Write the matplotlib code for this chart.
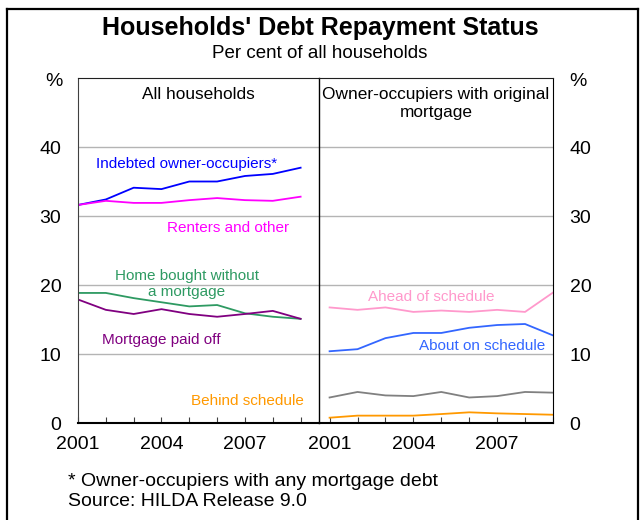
import matplotlib
matplotlib.use('Agg')
import matplotlib.pyplot as plt
from matplotlib.lines import Line2D

plt.rcParams['font.family'] = ['Liberation Sans', 'DejaVu Sans']

years = [2001, 2002, 2003, 2004, 2005, 2006, 2007, 2008, 2009]

# left panel: all households
indebted = [31.6, 32.4, 34.1, 33.9, 35.0, 35.0, 35.8, 36.1, 37.0]
renters = [31.6, 32.2, 31.9, 31.9, 32.3, 32.6, 32.3, 32.2, 32.8]
home_no_mortgage = [18.85, 18.85, 18.1, 17.5, 16.9, 17.1, 15.9, 15.4, 15.1]
paid_off = [17.9, 16.4, 15.8, 16.5, 15.8, 15.4, 15.8, 16.25, 15.1]

# right panel: owner-occupiers with original mortgage
ahead = [16.75, 16.4, 16.75, 16.1, 16.3, 16.1, 16.4, 16.1, 18.9]
on_schedule = [10.4, 10.7, 12.3, 13.05, 13.05, 13.8, 14.2, 14.35, 12.7]
other = [3.7, 4.5, 4.0, 3.9, 4.5, 3.7, 3.9, 4.5, 4.4]
behind = [0.77, 1.07, 1.07, 1.07, 1.3, 1.55, 1.4, 1.3, 1.2]

year_labels = ['2001', '', '', '2004', '', '', '2007', '', '']

fig = plt.figure(figsize=(6.4, 5.2), dpi=100)
ax1 = fig.add_axes([0.1219, 0.1865, 0.3765, 0.6635])
ax2 = fig.add_axes([0.4984, 0.1865, 0.3656, 0.6635])

lw = 1.3
ax1.plot(years, indebted, color='#0000ff', lw=lw)
ax1.plot(years, renters, color='#ff00ff', lw=lw)
ax1.plot(years, home_no_mortgage, color='#2e9a62', lw=lw)
ax1.plot(years, paid_off, color='#800080', lw=lw)

ax2.plot(years, ahead, color='#ff99cc', lw=lw)
ax2.plot(years, on_schedule, color='#3366ff', lw=lw)
ax2.plot(years, other, color='#808080', lw=lw)
ax2.plot(years, behind, color='#ff9900', lw=lw)

ax1.set_xlim(2001, 2009.66)
ax2.set_xlim(2000.62, 2009)

for ax in (ax1, ax2):
    ax.set_ylim(0, 50)
    ax.set_yticks([0, 10, 20, 30, 40])
    for v in [10, 20, 30, 40]:
        ax.axhline(v, color='#b4b4b4', lw=1, zorder=0)
    ax.set_xticks(years)
    ax.set_xticklabels(year_labels, fontsize=14)
    ax.tick_params(axis='x', direction='in', length=4, color='#404040', pad=9)
    ax.tick_params(axis='y', length=0, labelsize=14)
    ax.spines['bottom'].set_linewidth(1.5)
    ax.spines['top'].set_color('#202020')

ax1.tick_params(axis='y', pad=12)
ax1.spines['left'].set_color('#404040')
ax1.spines['right'].set_visible(False)
ax2.spines['left'].set_color('black')
ax2.spines['left'].set_linewidth(1)
ax2.yaxis.tick_right()
ax2.tick_params(axis='y', pad=12, length=0)

# panel titles
ax1.text(0.5, 0.975, 'All households', transform=ax1.transAxes,
         ha='center', va='top', fontsize=12.4)
ax2.text(0.5, 0.975, 'Owner-occupiers with original\nmortgage',
         transform=ax2.transAxes, ha='center', va='top', fontsize=12.4,
         linespacing=1.25)

# series labels
fs = 11
ax1.text(2001.65, 37.6, 'Indebted owner-occupiers*', color='#0000ff',
         fontsize=fs, va='center', ha='left')
ax1.text(2006.38, 28.2, 'Renters and other', color='#ff00ff',
         fontsize=fs, va='center', ha='center')
ax1.text(2004.9, 20.2, 'Home bought without\na mortgage', color='#2e9a62',
         fontsize=fs, va='center', ha='center', linespacing=1.2)
ax1.text(2004.0, 12.1, 'Mortgage paid off', color='#800080',
         fontsize=fs, va='center', ha='center')
ax1.text(2009.12, 3.2, 'Behind schedule', color='#ff9900',
         fontsize=fs, va='center', ha='right')
ax2.text(2004.65, 18.3, 'Ahead of schedule', color='#ff99cc',
         fontsize=fs, va='center', ha='center')
ax2.text(2006.46, 11.2, 'About on schedule', color='#3366ff',
         fontsize=fs, va='center', ha='center')

# titles and notes
fig.text(0.5, 1 - 28 / 520, "Households' Debt Repayment Status",
         ha='center', va='center', fontsize=18, fontweight='bold')
fig.text(0.5, 1 - 54 / 520, 'Per cent of all households',
         ha='center', va='center', fontsize=13.5)
fig.text(54 / 640, 1 - 81 / 520, '%', ha='center', va='center', fontsize=14)
fig.text(578 / 640, 1 - 81 / 520, '%', ha='center', va='center', fontsize=14)
fig.text(68 / 640, 1 - 481 / 520, '* Owner-occupiers with any mortgage debt',
         ha='left', va='center', fontsize=14)
fig.text(68 / 640, 1 - 502 / 520, 'Source: HILDA Release 9.0',
         ha='left', va='center', fontsize=14)

# outer frame (open at the bottom)
top = 1 - 9 / 520
fig.add_artist(Line2D([7 / 640, 7 / 640], [0, top], color='black', lw=1.6))
fig.add_artist(Line2D([638 / 640, 638 / 640], [0, top], color='black', lw=1.6))
fig.add_artist(Line2D([7 / 640, 638 / 640], [top, top], color='black', lw=1.6))

fig.savefig('out.png', dpi=100)
